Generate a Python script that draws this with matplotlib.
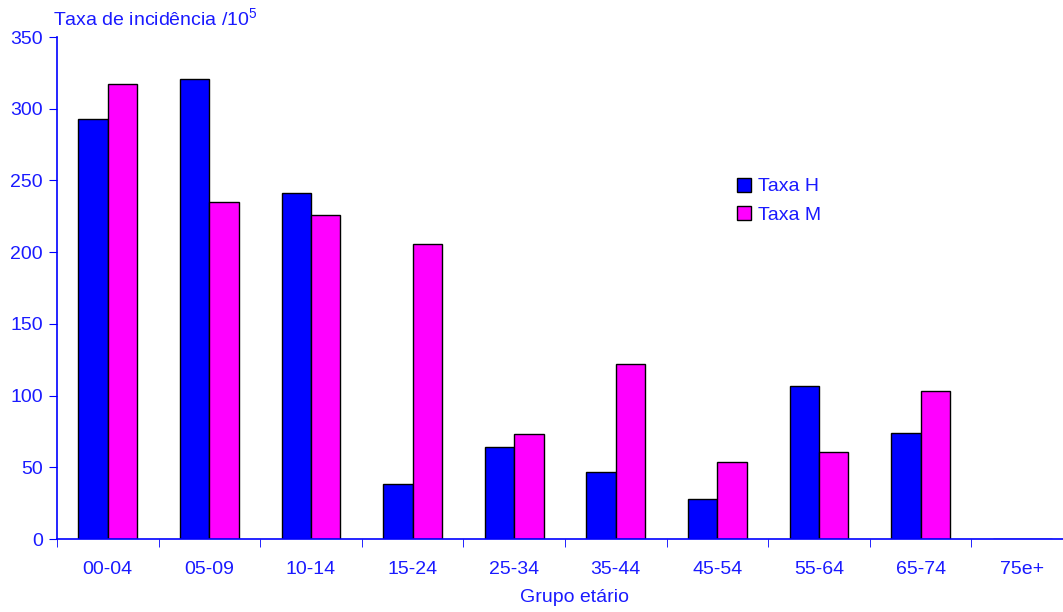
import matplotlib
matplotlib.use("Agg")
import matplotlib.pyplot as plt
import numpy as np

categories = ["00-04", "05-09", "10-14", "15-24", "25-34", "35-44", "45-54", "55-64", "65-74", "75e+"]
taxa_h = [293, 321, 241, 38, 64, 47, 28, 107, 74, 0]
taxa_m = [317, 235, 226, 206, 73, 122, 54, 61, 103, 0]
y_ticks = [0, 50, 100, 150, 200, 250, 300, 350]

plt.rcParams['font.family'] = ['Liberation Sans', 'DejaVu Sans']
plt.rcParams['mathtext.fontset'] = 'custom'
plt.rcParams['mathtext.rm'] = 'Liberation Sans'

W, H = 1063, 612
fig = plt.figure(figsize=(W / 100, H / 100), dpi=100)
cw = 101.6
ax = fig.add_axes([57 / W, (H - 539) / H, (10 * cw) / W, (539 - 37) / H])

txt = '#1a1aff'
fs = 14
x = np.arange(len(categories))
bw = 0.29
ax.bar(x - bw / 2, taxa_h, bw, color='#0000ff', edgecolor='black', linewidth=1.0, label='Taxa H')
ax.bar(x + bw / 2, taxa_m, bw, color='#ff00ff', edgecolor='black', linewidth=1.0, label='Taxa M')

ax.set_xlim(-0.5, len(categories) - 0.5)
ax.set_ylim(0, 350)
ax.set_yticks(y_ticks)
ax.set_xticks(x)
ax.set_xticklabels(categories)
ax.set_xticks(np.arange(len(categories)) - 0.5, minor=True)
ax.tick_params(axis='x', which='major', length=0, pad=16, labelsize=fs, labelcolor=txt)
ax.tick_params(axis='x', which='minor', length=6, color='#0000ff', direction='out')
ax.tick_params(axis='y', length=6, color='#0000ff', labelsize=fs, labelcolor=txt, pad=4)

for s in ['top', 'right']:
    ax.spines[s].set_visible(False)
for s in ['left', 'bottom']:
    ax.spines[s].set_color('#0000ff')
    ax.spines[s].set_linewidth(1.2)

fig.text(53 / W, 1 - 19 / H, 'Taxa de incidência /10$^5$', color=txt, fontsize=fs, ha='left', va='center')
fig.text(575 / W, 1 - 598 / H, 'Grupo etário', color=txt, fontsize=fs, ha='center', va='center')

leg = ax.legend(loc='upper left', bbox_to_anchor=(719 / W, 1 - 160 / H), bbox_transform=fig.transFigure,
                frameon=False, fontsize=fs, handlelength=0.75, handleheight=0.75, handletextpad=0.35,
                labelspacing=0.55)
for t in leg.get_texts():
    t.set_color(txt)

fig.savefig('out.png', dpi=100)
